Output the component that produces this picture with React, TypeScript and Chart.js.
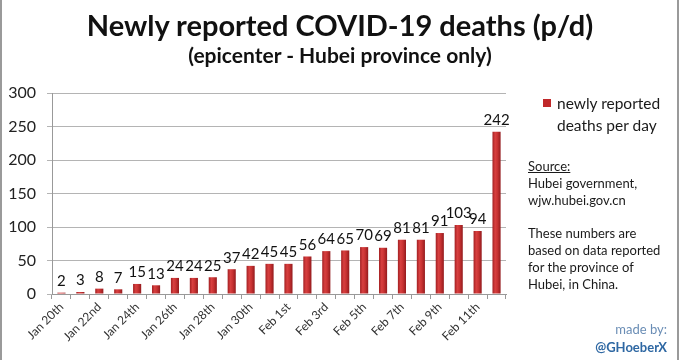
import React, { useEffect, useRef } from 'react';
import { Chart, registerables } from 'chart.js';

Chart.register(...registerables);

const categories = [
  'Jan 20th', 'Jan 21st', 'Jan 22nd', 'Jan 23rd', 'Jan 24th', 'Jan 25th',
  'Jan 26th', 'Jan 27th', 'Jan 28th', 'Jan 29th', 'Jan 30th', 'Jan 31st',
  'Feb 1st', 'Feb 2nd', 'Feb 3rd', 'Feb 4th', 'Feb 5th', 'Feb 6th',
  'Feb 7th', 'Feb 8th', 'Feb 9th', 'Feb 10th', 'Feb 11th', 'Feb 12th',
];
const deaths = [2, 3, 8, 7, 15, 13, 24, 24, 25, 37, 42, 45, 45, 56, 64, 65, 70, 69, 81, 81, 91, 103, 94, 242];
const seriesLabel = 'newly reported deaths per day';
const legendLines = ['newly reported', 'deaths per day'];
const titleText = 'Newly reported COVID-19 deaths (p/d)';
const subtitleText = '(epicenter - Hubei province only)';
const sourceLines = ['Hubei government,', 'wjw.hubei.gov.cn'];
const noteLines = ['These numbers are', 'based on data reported', 'for the province of', 'Hubei, in China.'];
const yMin = 0;
const yMax = 300;
const yStep = 50;

const FONT = 'Lato, "Open Sans", "DejaVu Sans", sans-serif';
const BAR = '#c0282a';

export default function App() {
  const ref = useRef<HTMLCanvasElement>(null);

  useEffect(() => {
    const canvas = ref.current!;
    const valueLabels = {
      id: 'valueLabels',
      afterDatasetsDraw(chart: any) {
        const ctx = chart.ctx;
        const meta = chart.getDatasetMeta(0);
        ctx.save();
        ctx.font = `15px ${FONT}`;
        ctx.fillStyle = '#111';
        ctx.textAlign = 'center';
        ctx.textBaseline = 'bottom';
        meta.data.forEach((el: any, i: number) => {
          ctx.fillText(String(deaths[i]), el.x, el.y - 4);
        });
        ctx.restore();
      },
    };

    const chart = new Chart(canvas, {
      type: 'bar',
      data: {
        labels: categories,
        datasets: [
          {
            label: seriesLabel,
            data: deaths,
            categoryPercentage: 1,
            barPercentage: 0.43,
            backgroundColor: (c: any) => {
              const ch = c.chart;
              const xs = ch.scales && ch.scales.x;
              if (!xs || c.dataIndex === undefined) return BAR;
              const cx = xs.getPixelForValue(c.dataIndex);
              if (!isFinite(cx)) return BAR;
              const g = ch.ctx.createLinearGradient(cx - 4.5, 0, cx + 4.5, 0);
              g.addColorStop(0, '#9a1a1d');
              g.addColorStop(0.35, '#d84040');
              g.addColorStop(0.6, '#c83232');
              g.addColorStop(1, '#8c171a');
              return g;
            },
          },
        ],
      },
      options: {
        animation: false,
        responsive: false,
        layout: { padding: { left: 0, right: 174, top: 93, bottom: 0 } },
        plugins: {
          legend: { display: false },
          tooltip: { enabled: false },
          title: { display: false },
        },
        scales: {
          x: {
            offset: true,
            grid: { offset: true, drawOnChartArea: false, drawTicks: true, tickLength: 5, color: '#999' },
            border: { color: '#999' },
            ticks: {
              autoSkip: false,
              maxRotation: 45,
              minRotation: 45,
              padding: 1,
              color: '#333',
              font: { family: FONT, size: 12 },
              callback: (_v: any, i: number) => (i % 2 === 0 ? categories[i] : ''),
            },
            afterFit: (s: any) => {
              s.height = 66;
            },
          },
          y: {
            min: yMin,
            max: yMax,
            ticks: { stepSize: yStep, padding: 11, color: '#222', font: { family: FONT, size: 16 } },
            grid: { color: '#b4b4b4', tickLength: 5 },
            border: { color: '#999' },
            afterFit: (s: any) => {
              s.width = 52;
            },
          },
        },
      },
      plugins: [valueLabels],
    } as any);
    return () => chart.destroy();
  }, []);

  const abs = (extra: any) => ({ position: 'absolute' as const, fontFamily: FONT, whiteSpace: 'nowrap' as const, ...extra });

  return (
    <div
      style={{
        position: 'fixed',
        left: 0,
        top: 0,
        width: 680,
        height: 360,
        background: '#fff',
        overflow: 'hidden',
      }}
    >
      <canvas ref={ref} width={680} height={360} style={{ position: 'absolute', left: 0, top: 0 }} />
      <div style={{ position: 'absolute', left: 0, top: 0, width: 2, height: 360, background: '#9a9a9a' }} />
      <div style={{ position: 'absolute', left: 677, top: 0, width: 2, height: 360, background: '#9a9a9a' }} />
      <div style={abs({ left: 0, width: 680, top: 7, textAlign: 'center', fontSize: 29, fontWeight: 700, color: '#111', lineHeight: '36px' })}>
        {titleText}
      </div>
      <div style={abs({ left: 0, width: 680, top: 42, textAlign: 'center', fontSize: 21, fontWeight: 700, color: '#111', lineHeight: '26px' })}>
        {subtitleText}
      </div>
      <div style={{ position: 'absolute', left: 543, top: 99, width: 8, height: 8, background: BAR }} />
      <div style={abs({ left: 557, top: 92, fontSize: 15.5, color: '#1a1a1a', lineHeight: '22px' })}>
        {legendLines.map((l, i) => (
          <div key={i}>{l}</div>
        ))}
      </div>
      <div style={abs({ left: 528, top: 158, fontSize: 13, color: '#1a1a1a', lineHeight: '16.8px' })}>
        <div style={{ textDecoration: 'underline' }}>Source:</div>
        {sourceLines.map((l, i) => (
          <div key={'s' + i}>{l}</div>
        ))}
        <div>&nbsp;</div>
        {noteLines.map((l, i) => (
          <div key={'n' + i}>{l}</div>
        ))}
      </div>
      <div style={abs({ right: 13, top: 320, fontSize: 13, color: '#6a8db5', lineHeight: '18px', textAlign: 'right' })}>
        made by:
      </div>
      <div style={abs({ right: 13, top: 338, fontSize: 13, color: '#2f68a3', fontWeight: 700, lineHeight: '18px', textAlign: 'right' })}>
        @GHoeberX
      </div>
    </div>
  );
}
